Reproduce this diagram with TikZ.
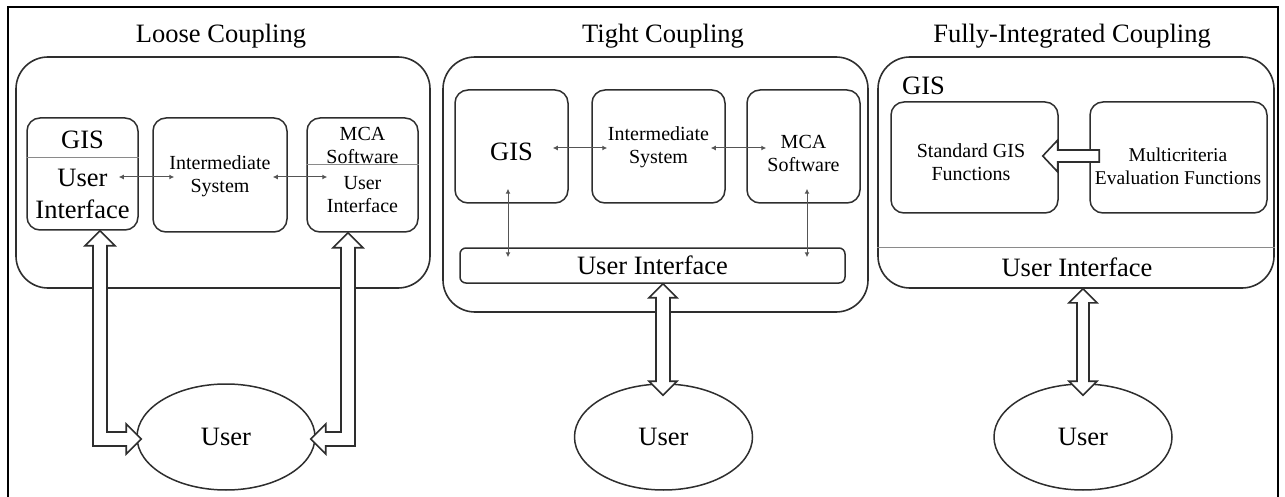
\documentclass[tikz,border=0pt]{standalone}
\usepackage{fontspec}
\setmainfont{Liberation Serif}
\usetikzlibrary{arrows.meta,shapes.geometric,calc}
\definecolor{linec}{HTML}{2e2e2e}
\definecolor{arrc}{HTML}{555555}
\definecolor{divc}{HTML}{8a8a8a}
\begin{document}
\begin{tikzpicture}[x=1pt,y=-1pt,
  outerbox/.style={draw=linec, line width=1.6pt, rounded corners=32pt, inner sep=0pt},
  innerbox/.style={draw=linec, line width=1.5pt, rounded corners=13pt, inner sep=0pt},
  bigtxt/.style={font=\fontsize{26.5}{30}\selectfont, inner sep=0pt, align=center},
  smalltxt/.style={font=\fontsize{20}{23}\selectfont, inner sep=0pt, align=center},
  userell/.style={draw=linec, line width=1.5pt, ellipse, minimum width=178pt, minimum height=106pt, inner sep=0pt, font=\fontsize{26.5}{30}\selectfont},
  thinarr/.style={draw=arrc, line width=1pt, {Latex[length=5pt,width=5pt]}-{Latex[length=5pt,width=5pt]}},
  hollow/.style={draw=linec, line width=1.6pt, fill=white, line join=miter},
  divider/.style={draw=divc, line width=1pt},
]
\useasboundingbox (0,0) rectangle (1285,497);
% frame
\draw[line width=2.5pt, black] (8,497) -- (8,7) -- (1278,7) -- (1278,497);

% ---------- Loose Coupling ----------
\node[bigtxt] (title1) at (221,36) {Loose Coupling};
\node[outerbox, minimum width=414pt, minimum height=231pt] (outer1) at (223,172.5) {};
\node[innerbox, minimum width=111pt, minimum height=112pt] (gisui) at (82.5,174) {};
\node[innerbox, minimum width=134pt, minimum height=114pt] (inter1) at (220,175) {};
\node[innerbox, minimum width=111pt, minimum height=114pt] (mca1) at (362.5,175) {};
\draw[divider] ($(gisui.north west)+(0,40)$) -- ($(gisui.north east)+(0,40)$);
\draw[divider] ($(mca1.north west)+(0,47)$) -- ($(mca1.north east)+(0,47)$);
\node[bigtxt] (gis1lbl) at (82.5,140) {GIS};
\node[font=\fontsize{26.5}{32}\selectfont, inner sep=0pt, align=center] (ui1lbl) at (82.5,194) {User\\Interface};
\node[smalltxt] (inter1lbl) at (220,176) {Intermediate\\System};
\node[smalltxt] (mca1lbl) at (362.5,145) {MCA\\Software};
\node[smalltxt] (ui1blbl) at (362.5,195) {User\\Interface};
\draw[thinarr] ($(gisui.east)+(-20,3)$) -- ($(inter1.west)+(22,2)$);
\draw[thinarr] ($(inter1.east)+(-15,2)$) -- ($(mca1.west)+(21,2)$);
\node[userell] (user1) at (226,437) {User};
\coordinate (t1) at ($(gisui.south)+(17.5,0)$);
\coordinate (h1) at ($(user1.west)+(5,2)$);
\path[hollow] (t1) -- ++(15,15) -- ++(-8,0) -- ($(t1|-h1)+(7,-7)$) -- ($(h1)+(-15,-7)$) -- ++(0,-8) -- (h1) -- ++(-15,15) -- ++(0,-8) -- ($(t1|-h1)+(-7,7)$) -- ($(t1)+(-7,15)$) -- ++(-8,0) -- cycle;
\coordinate (t2) at ($(mca1.south)+(-14.5,0)$);
\coordinate (h2) at ($(user1.east)+(-5,2)$);
\path[hollow] (t2) -- ++(15,15) -- ++(-8,0) -- ($(t2|-h2)+(7,7)$) -- ($(h2)+(15,7)$) -- ++(0,8) -- (h2) -- ++(15,-15) -- ++(0,8) -- ($(t2|-h2)+(-7,-7)$) -- ($(t2)+(-7,15)$) -- ++(-8,0) -- cycle;

% ---------- Tight Coupling ----------
\node[bigtxt] (title2) at (663,36) {Tight Coupling};
\node[outerbox, minimum width=425pt, minimum height=255pt] (outer2) at (655.5,184.5) {};
\node[innerbox, minimum width=113pt, minimum height=113pt] (gis2) at (511.5,146.5) {};
\node[innerbox, minimum width=133pt, minimum height=113pt] (inter2) at (658.5,146.5) {};
\node[innerbox, minimum width=113pt, minimum height=113pt] (mca2) at (803.5,146.5) {};
\node[draw=linec, line width=1.5pt, rounded corners=6pt, inner sep=0pt, minimum width=385pt, minimum height=35pt, font=\fontsize{26.5}{30}\selectfont] (ui2) at (652.5,265.5) {User Interface};
\node[bigtxt] (gis2lbl) at (511.5,152) {GIS};
\node[smalltxt] (inter2lbl) at (658.5,147) {Intermediate\\System};
\node[smalltxt] (mca2lbl) at (803.5,153) {MCA\\Software};
\draw[thinarr] ($(gis2.east)+(-16,1.5)$) -- ($(inter2.west)+(16,1.5)$);
\draw[thinarr] ($(inter2.east)+(-15,1.5)$) -- ($(mca2.west)+(20,1.5)$);
\draw[thinarr] ($(gis2.south)+(-3.5,-15)$) -- ($(gis2.south|-ui2.north)+(-3.5,10)$);
\draw[thinarr] ($(mca2.south)+(3.5,-15)$) -- ($(mca2.south|-ui2.north)+(3.5,10)$);
\node[userell] (user2) at (663.5,437) {User};
\coordinate (t3) at ($(ui2.south)+(10.5,0)$);
\coordinate (b3) at ($(t3|-user2.north)+(0,12)$);
\path[hollow] (t3) -- ++(14,14) -- ++(-7,0) -- ($(b3)+(7,-14)$) -- ++(7,0) -- (b3) -- ++(-14,-14) -- ++(7,0) -- ($(t3)+(-7,14)$) -- ++(-7,0) -- cycle;

% ---------- Fully-Integrated Coupling ----------
\node[bigtxt] (title3) at (1072,36) {Fully-Integrated Coupling};
\node[outerbox, minimum width=396pt, minimum height=231pt] (outer3) at (1076,172.5) {};
\node[bigtxt, anchor=west] (gis3lbl) at (902,86) {GIS};
\node[innerbox, minimum width=167pt, minimum height=111pt] (std) at (974.5,157.5) {};
\node[innerbox, minimum width=177pt, minimum height=111pt] (mce) at (1178.5,157.5) {};
\node[smalltxt] (stdlbl) at (971,162) {Standard GIS\\Functions};
\node[font=\fontsize{19.5}{23}\selectfont, inner sep=0pt, align=center] (mcelbl) at (1178,166) {Multicriteria\\Evaluation Functions};
\draw[divider] ($(outer3.north west)+(0,191)$) -- ($(outer3.north east)+(0,191)$);
\node[bigtxt] (ui3lbl) at (1077,267) {User Interface};
\coordinate (s5) at ($(mce.west)+(10,-1.5)$);
\coordinate (t5) at ($(std.east)+(-16,-1.5)$);
\path[hollow] (t5) -- ++(15,-16) -- ++(0,10) -- ($(s5)+(0,-6)$) -- ++(0,12) -- ($(t5)+(15,6)$) -- ++(0,10) -- cycle;
\node[userell] (user3) at (1083,437) {User};
\coordinate (t4) at ($(outer3.south)+(7,0)$);
\coordinate (b4) at ($(t4|-user3.north)+(0,12)$);
\path[hollow] (t4) -- ++(14,14) -- ++(-8,0) -- ($(b4)+(6,-14)$) -- ++(8,0) -- (b4) -- ++(-14,-14) -- ++(8,0) -- ($(t4)+(-6,14)$) -- ++(-8,0) -- cycle;
\end{tikzpicture}
\end{document}
